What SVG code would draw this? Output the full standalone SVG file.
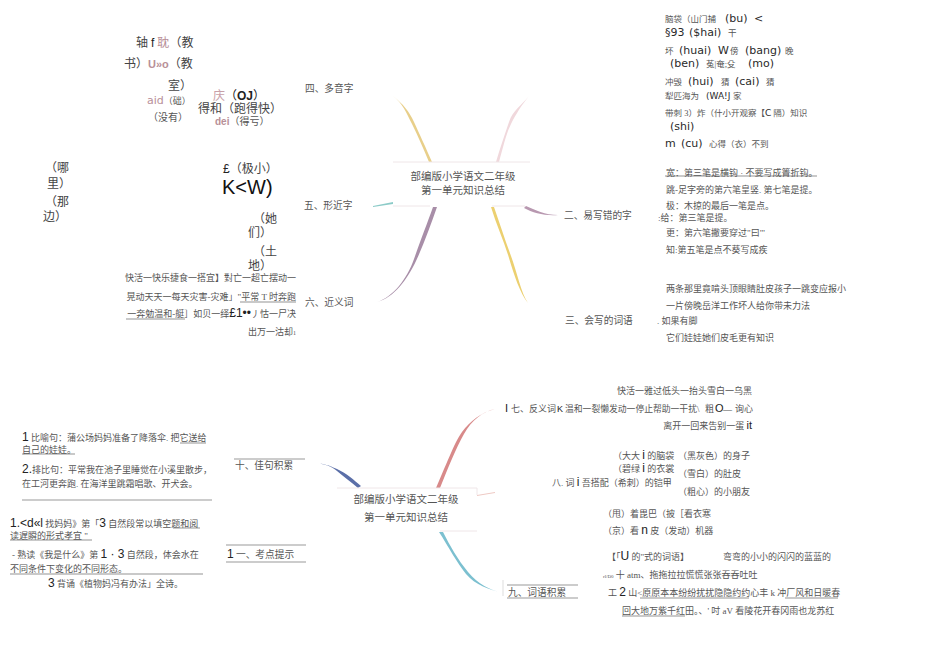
<svg xmlns="http://www.w3.org/2000/svg" width="950" height="672" viewBox="0 0 950 672">
<style>
text{font-family:"Liberation Serif","Noto Sans CJK SC",serif;font-size:9px;fill:#555}
.l{font-family:"DejaVu Sans","Noto Sans CJK SC",sans-serif;font-size:11px;fill:#2a2a2a}
.h{font-family:"Liberation Sans","Noto Sans CJK SC",sans-serif;font-size:12px;fill:#222}
.m{font-size:9.7px}
.b{font-size:12px;fill:#444}
.t{font-size:10.5px;text-anchor:middle}
.e{text-anchor:end}
.s{font-size:8.5px}
.r{fill:#b89098;font-family:"Liberation Sans","Noto Sans CJK SC",sans-serif;font-weight:bold}
.u{stroke:#666;stroke-width:.7;fill:none}
.g{stroke:#999;stroke-width:1;fill:none}
.c{stroke:#efe6e8;stroke-width:1;fill:none}
</style>
<g id="connectors">
<path fill="#e8cf8a" d="M393 96C403 104 409 111 414 122S426 148 432 162H429C423 148 418 136 412 124S403 104 393 96Z"/>
<path fill="#f0d8dc" d="M529 96C521 106 516 114 511 124S503 148 499 162H496C500 148 505 134 509 122S521 106 529 96Z"/>
<path fill="#8ccbc8" d="M373 206L393 202V204L373 207Z"/>
<path fill="#a88ea8" d="M437 207C431 224 424 244 416 261S394 298 377 302C393 297 407 279 414 259S427 224 433 207Z"/>
<path fill="#ecd070" d="M494 207C500 224 505 240 511 256S521 293 528 303C520 293 514 275 509 258S496 224 491 207Z"/>
<path fill="#b898b0" d="M526 206C535 210 545 215 558 215C545 216 533 213 524 208Z"/>
<path d="M393 162H530M393 206H430M492 206H525" class="c"/>
<path fill="#d88a8a" d="M440 488C448 468 456 448 464 434S482 412 495 409C482 412 470 421 462 432S445 468 436 488Z"/>
<path fill="#eec9c4" d="M477 495L495 492V493L477 496Z"/>
<path fill="#5b6fa8" d="M361 486C354 480 346 473 337 469S325 464 315 463C325 464 331 466 337 471S351 482 358 488Z"/>
<path fill="#7cc0d0" d="M443 532C450 546 458 560 468 572S490 590 503 593C490 590 475 585 466 574S448 546 439 532Z"/>
<path d="M337 488H477V495M440 531H477" class="c"/>
<path d="M503 580V596" stroke="#ddd" stroke-width="1" fill="none"/>
</g>
<g id="root-top">
<text class="t" x="463" y="180">部编版小学语文二年级</text>
<text class="t" x="463" y="194">第一单元知识总结</text>
</g>
<g id="root-bottom">
<text class="t" x="406" y="503">部编版小学语文二年级</text>
<text class="t" x="406" y="521">第一单元知识总结</text>
</g>
<g id="node-4">
<text x="305" y="92" class="m">四、多音字</text>
<text class="b" x="136" y="47">轴 <tspan class="h">f</tspan> <tspan style="fill:#b89098">耽</tspan>（教</text>
<text class="b" x="124" y="68">书）<tspan class="r" font-size="11">U»o</tspan>（教</text>
<text class="b" x="168" y="90">室）</text>
<text x="147" y="104"><tspan class="l" style="fill:#b89098">aid</tspan>（础）</text>
<text x="148" y="121" style="font-size:10px">（没有）</text>
<text class="h" x="213" y="100"><tspan style="fill:#c8a0a8">庆</tspan>（<tspan font-weight="bold">OJ</tspan>）</text>
<text class="b" x="198" y="113">得和（跑得快）</text>
<text x="215" y="125" style="font-size:10px"><tspan class="r">dei</tspan>（得亏）</text>
</g>
<g id="node-5">
<text x="304" y="209" class="m">五、形近字</text>
<text x="45" y="172" class="b">（哪</text>
<text x="47" y="188" class="b">里）</text>
<text x="45" y="206" class="b">（那</text>
<text x="43" y="221" class="b">边）</text>
<text x="223" y="173" class="b"><tspan class="h" font-size="11">£</tspan>（极小）</text>
<text x="222" y="194" class="h" style="font-size:20px;fill:#111">K&lt;W)</text>
<text x="253" y="223" class="b">（她</text>
<text x="248" y="237" class="b">们）</text>
<text x="253" y="256" class="b">（土</text>
<text x="248" y="270" class="b">地）</text>
</g>
<g id="node-6">
<text x="305" y="306" class="m">六、近义词</text>
<text class="e" x="296" y="281">快活一快乐捷食一搭宜】對亡一超亡摆动一</text>
<text class="e" x="296" y="300">晃动天天一每天灾害-灾难」"平常 T 时奔跑</text>
<text class="e" x="296" y="317">一奔勉温和-艇］如贝一绎<tspan class="h">£1••</tspan>丿怙一尸决</text>
<text class="e" x="296" y="335">出万一沽却<tspan font-size="6">1</tspan></text>
<path class="u" d="M240 302H296M126 319H185"/>
</g>
<g id="node-1-top">
<text x="665" y="22" class="s">脑袋（山门捕<tspan class="l" x="725">(bu)</tspan><tspan class="l" x="754">&lt;</tspan></text>
<text x="665" y="36" class="s"><tspan class="l">§93</tspan><tspan class="l" x="689">($hai)</tspan><tspan x="728">干</tspan></text>
<text x="665" y="54" class="s">坏<tspan class="l" x="679">(huai)</tspan><tspan class="l" x="718">W</tspan><tspan x="730">傍</tspan><tspan class="l" x="745">(bang)</tspan><tspan x="785">晚</tspan></text>
<text x="670" y="67" class="s"><tspan class="l">(ben)</tspan><tspan x="706">菟|奄;殳</tspan><tspan class="l" x="748">(mo)</tspan></text>
<text x="665" y="85" class="s">冲毁<tspan class="l" x="688">(hui)</tspan><tspan x="721">猜</tspan><tspan class="l" x="735">(cai)</tspan><tspan x="766">猜</tspan></text>
<text x="665" y="99" class="s">犁匹海为<tspan class="l" x="706" style="font-size:9px">(WA!J</tspan><tspan x="733">家</tspan></text>
<text x="665" y="116" class="s">带刺 3）炸（什小开观察【<tspan class="l" style="font-size:9px">C</tspan> 隔）知识</text>
<text x="670" y="130" class="l">(shi)</text>
<text x="665" y="147" class="s"><tspan class="l">m</tspan><tspan class="l" x="681">(cu)</tspan><tspan x="709">心得（衣）不到</tspan></text>
</g>
<g id="node-2">
<text x="564" y="219" class="m">二、易写错的字</text>
<text x="666" y="176">宽：第三笔是横钩 · 不要写成箐折钩。</text>
<path class="u" d="M665 176H817"/>
<text x="666" y="193">跳-足字旁的第六笔皇竖. 第七笔是提。</text>
<text x="666" y="209">极：木掠的最后一笔是点。</text>
<text x="658" y="221">:给：第三笔是提。</text>
<text x="666" y="236">更：第六笔撇要穿过"曰"'</text>
<text x="666" y="253">知:第五笔是点不葵写成疾</text>
</g>
<g id="node-3">
<text x="565" y="324" class="m">三、会写的词语</text>
<text x="666" y="292">两条那里竟啃头顶眼睛肚皮孩子一跳变应报小</text>
<text x="666" y="309">一片傍晚岳洋工作坏人给你带未力法</text>
<text x="657" y="324">. 如果有脚</text>
<text x="666" y="341">它们娃娃她们皮毛更有知识</text>
</g>
<g id="node-7">
<text x="505" y="412"><tspan class="h" style="font-size:11px">I</tspan><tspan x="511">七、反义词</tspan><tspan class="h" style="font-size:9px" x="557">K</tspan><tspan x="565" style="font-size:8.8px">温和一裂懒发动一停止帮助一干扰\</tspan><tspan x="705">粗</tspan><tspan class="h" x="715" style="font-size:11px">O</tspan><tspan x="723">—</tspan><tspan x="735">询心</tspan></text>
<text class="e" x="752" y="394">快活一雅过低头一抬头雪白一乌黑</text>
<text class="e" x="752" y="429">离开一回来告别一蛋 <tspan class="h" style="font-size:11px">it</tspan></text>
</g>
<g id="node-8">
<text x="613" y="459">（大大 <tspan class="h">i</tspan> 的脑袋</text>
<text x="613" y="472">（碧绿 <tspan class="h">i</tspan> 的衣裳</text>
<text x="552" y="486">八. 词 <tspan class="h">i</tspan> 吾搭配（希刺）的铠甲</text>
<text x="678" y="459">（黑灰色）的身子</text>
<text x="678" y="477">（雪白）的肚皮</text>
<text x="678" y="495">（粗心）的小朋友</text>
<text x="603" y="517">（甩）着毘巴（披［看衣寒</text>
<text x="603" y="534">（京）看 <tspan class="h">n</tspan> 皮（发动）机器</text>
</g>
<g id="node-9">
<text x="508" y="596" class="m">九、词语积累</text>
<path class="g" d="M507 585H578M507 598H578"/>
<text x="607" y="560">【「<tspan class="h">U</tspan> 的"式的词语】</text>
<text x="723" y="560">弯弯的小小的闪闪的蓝蓝的</text>
<text x="603" y="578"><tspan style="font-size:5px">rl/D0</tspan> 十 atm、拖拖拉拉慌慌张张吞吞吐吐</text>
<text x="608" y="596">工 <tspan class="h">2</tspan> 山&lt;原原本本纷纷扰扰隐隐约约心丰 k 冲厂风和日暖春</text>
<text x="622" y="614">回大地万紫千红田。、' 吋 aV 看陵花开春冈雨也龙苏红</text>
<path class="u" d="M640 598H749M785 598H838M622 616H685"/>
</g>
<g id="node-10">
<text x="235" y="469" class="m">十、佳句积累</text>
<path class="g" d="M234 459H305"/>
<text x="22" y="441"><tspan class="h">1</tspan> 比喻句：蒲公场妈妈准备了降落伞. 把它送给</text>
<text x="22" y="453">自己的娃娃。</text>
<path class="u" d="M180 443H206M22 454H75"/>
<text x="22" y="473"><tspan class="h">2.</tspan>排比句：平常我在池子里睡觉在小溪里散步，</text>
<text x="22" y="487">在工河更奔跑. 在海洋里跳霜唱歌、开犬会。</text>
<path class="g" d="M22 500H212"/>
</g>
<g id="node-11">
<text x="227" y="558" class="h">1</text>
<text x="236" y="558" class="m">一、考点提示</text>
<path class="g" d="M226 545H306M226 562H306"/>
<text x="10" y="527"><tspan class="h">1.&lt;d«l</tspan> 找妈妈》第「<tspan class="h">3</tspan> 自然段常以填空题和阅</text>
<text x="10" y="539">读遅瞬的形式孝宜 "</text>
<path class="u" d="M173 528H200M10 540H92"/>
<text x="12" y="558">- 熟读《我是什么》第 <tspan class="h">1 · 3</tspan> 自然段，体会水在</text>
<text x="10" y="572">不同条件下变化的不同形态。</text>
<path class="u" d="M10 574H203"/>
<text x="48" y="587"><tspan class="h">3</tspan> 背诵《植物妈冯有办法」全诗。</text>
</g>
</svg>
